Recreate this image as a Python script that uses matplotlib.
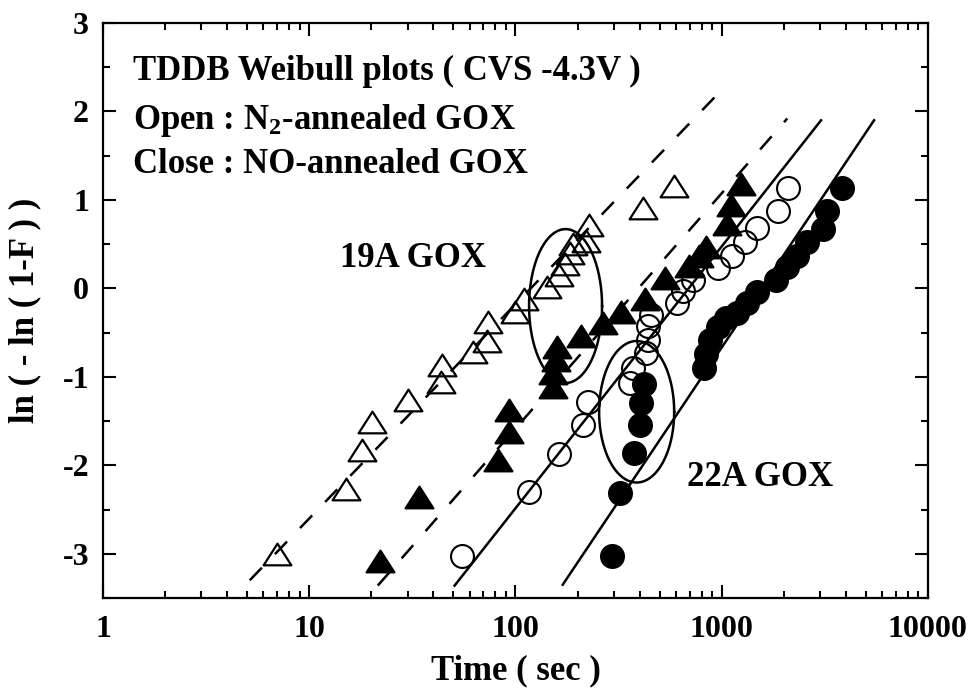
import numpy as np
import matplotlib
matplotlib.use('Agg')
import matplotlib.pyplot as plt
from matplotlib.path import Path
from matplotlib.ticker import FixedLocator, MultipleLocator, FuncFormatter

plt.rcParams['font.family'] = ['Liberation Serif', 'DejaVu Serif']
plt.rcParams['font.weight'] = 'bold'
plt.rcParams['mathtext.default'] = 'regular'
plt.rcParams['axes.unicode_minus'] = False

# TDDB breakdown times (sec) and Weibull ln(-ln(1-F))
# 19A GOX, N2-annealed (open triangles)
t19_n2 = [7.0, 15.0, 18.0, 20.1, 30.0, 43.5, 44.0, 62.5, 72.5, 74.0, 99, 110,
          142, 163, 173, 183, 190, 220, 228, 414, 589]
w19_n2 = [-3.00, -2.27, -1.83, -1.51, -1.26, -1.06, -0.87, -0.72, -0.59, -0.38,
          -0.27, -0.12, 0.01, 0.15, 0.28, 0.40, 0.50, 0.53, 0.72, 0.91, 1.16]
# 19A GOX, NO-annealed (filled triangles)
t19_no = [22, 34, 82, 93, 93, 152, 152, 157, 159, 208, 265, 325, 425, 530,
          696, 780, 838, 1067, 1108, 1239]
w19_no = [-3.08, -2.36, -1.94, -1.62, -1.38, -1.11, -0.96, -0.81, -0.66, -0.54,
          -0.39, -0.27, -0.12, 0.12, 0.25, 0.37, 0.47, 0.73, 0.94, 1.18]
# 22A GOX, N2-annealed (open circles)
t22_n2 = [55, 116, 162, 213, 224, 360, 370, 428, 437, 437, 454, 604, 646, 722,
          962, 1128, 1300, 1490, 1884, 2100]
w22_n2 = [-3.02, -2.30, -1.87, -1.55, -1.29, -1.07, -0.90, -0.73, -0.58, -0.43,
          -0.30, -0.16, -0.03, 0.10, 0.235, 0.37, 0.52, 0.68, 0.88, 1.13]
# 22A GOX, NO-annealed (filled circles)
t22_no = [293, 321, 377, 403, 406, 418, 817, 842, 880, 960, 1050, 1190, 1330,
          1480, 1830, 2083, 2330, 2605, 3100, 3250, 3846]
w22_no = [-3.03, -2.31, -1.86, -1.55, -1.30, -1.08, -0.90, -0.74, -0.58, -0.44,
          -0.34, -0.28, -0.16, -0.04, 0.10, 0.24, 0.37, 0.52, 0.67, 0.88, 1.13]

# fitted Weibull lines, (t_start, t_end), (w_start, w_end)
fit19_n2 = ([5.15, 960], [-3.30, 2.20])
fit19_no = ([21.5, 2080], [-3.36, 1.92])
fit22_n2 = ([50.7, 3033], [-3.36, 1.90])
fit22_no = ([169.5, 5480], [-3.35, 1.90])

# grouping ellipses: centre (t, w), half-width in decades, half-height
ell19 = (175, -0.20, 0.177, 0.87)
ell22 = (387, -1.395, 0.182, 0.80)

xticks = [1, 10, 100, 1000, 10000]
yticks = [-3, -2, -1, 0, 1, 2, 3]

fig = plt.figure(figsize=(9.74, 6.98), dpi=100)
ax = fig.add_axes([0.1057, 0.1433, 0.8470, 0.8238])
ax.set_xscale('log')
ax.set_xlim(1, 10000)
ax.set_ylim(-3.5, 3)

lw = 1.8
dash = dict(color='k', lw=lw, ls=(0, (7, 7.5)), dash_capstyle='butt')
ax.plot(*fit19_n2, **dash)
ax.plot(*fit19_no, **dash)
ax.plot(*fit22_n2, color='k', lw=lw)
ax.plot(*fit22_no, color='k', lw=lw)

tri = Path([(-1, -0.78), (1, -0.78), (0, 0.78), (-1, -0.78)], closed=True)
ax.plot(t19_n2, w19_n2, ls='none', marker=tri, ms=20, mfc='none', mec='k', mew=1.6, zorder=3)
ax.plot(t19_no, w19_no, ls='none', marker=tri, ms=20, mfc='k', mec='k', mew=1.6, zorder=3)
ax.plot(t22_n2, w22_n2, ls='none', marker='o', ms=16.5, mfc='none', mec='k', mew=1.5, zorder=3)
ax.plot(t22_no, w22_no, ls='none', marker='o', ms=16.5, mfc='k', mec='k', mew=1.5, zorder=3)

th = np.linspace(0, 2 * np.pi, 300)
for cx, cy, a, b in (ell19, ell22):
    ax.plot(10 ** (np.log10(cx) + a * np.cos(th)), cy + b * np.sin(th), color='k', lw=lw)

fs = 25
ax.text(0.036, 0.901, 'TDDB Weibull plots ( CVS -4.3V )', transform=ax.transAxes,
        fontsize=fs, fontweight='bold', va='baseline')
ax.text(0.036, 0.816, 'Open : N$_2$-annealed GOX', transform=ax.transAxes,
        fontsize=fs, fontweight='bold', va='baseline')
ax.text(0.036, 0.739, 'Close : NO-annealed GOX', transform=ax.transAxes,
        fontsize=fs, fontweight='bold', va='baseline')
ax.text(0.287, 0.576, '19A GOX', transform=ax.transAxes, fontsize=fs,
        fontweight='bold', va='baseline')
ax.text(0.708, 0.195, '22A GOX', transform=ax.transAxes, fontsize=fs,
        fontweight='bold', va='baseline')

ax.xaxis.set_major_locator(FixedLocator(xticks))
ax.xaxis.set_minor_locator(FixedLocator([m * d for d in xticks[:-1] for m in range(2, 10)]))
ax.xaxis.set_major_formatter(FuncFormatter(lambda v, p: f'{v:g}'))
ax.xaxis.set_minor_formatter(FuncFormatter(lambda v, p: ''))
ax.yaxis.set_major_locator(FixedLocator(yticks))
ax.yaxis.set_minor_locator(MultipleLocator(0.5))
ax.yaxis.set_major_formatter(FuncFormatter(lambda v, p: f'{v:g}'))

ax.tick_params(which='both', direction='in', top=True, right=True, width=1.5)
ax.tick_params(which='major', length=9.5, labelsize=23)
ax.tick_params(which='minor', length=5)
ax.tick_params(axis='x', which='major', pad=12)
ax.tick_params(axis='y', which='major', pad=10)
for sp in ax.spines.values():
    sp.set_linewidth(1.6)

ax.set_xlabel('Time ( sec )', fontsize=fs, fontweight='bold')
ax.set_ylabel('ln ( - ln ( 1-F ) )', fontsize=fs, fontweight='bold')
ax.xaxis.set_label_coords(0.5, -0.098)
ax.yaxis.set_label_coords(-0.075, 0.5)

fig.savefig('out.png', dpi=100)
